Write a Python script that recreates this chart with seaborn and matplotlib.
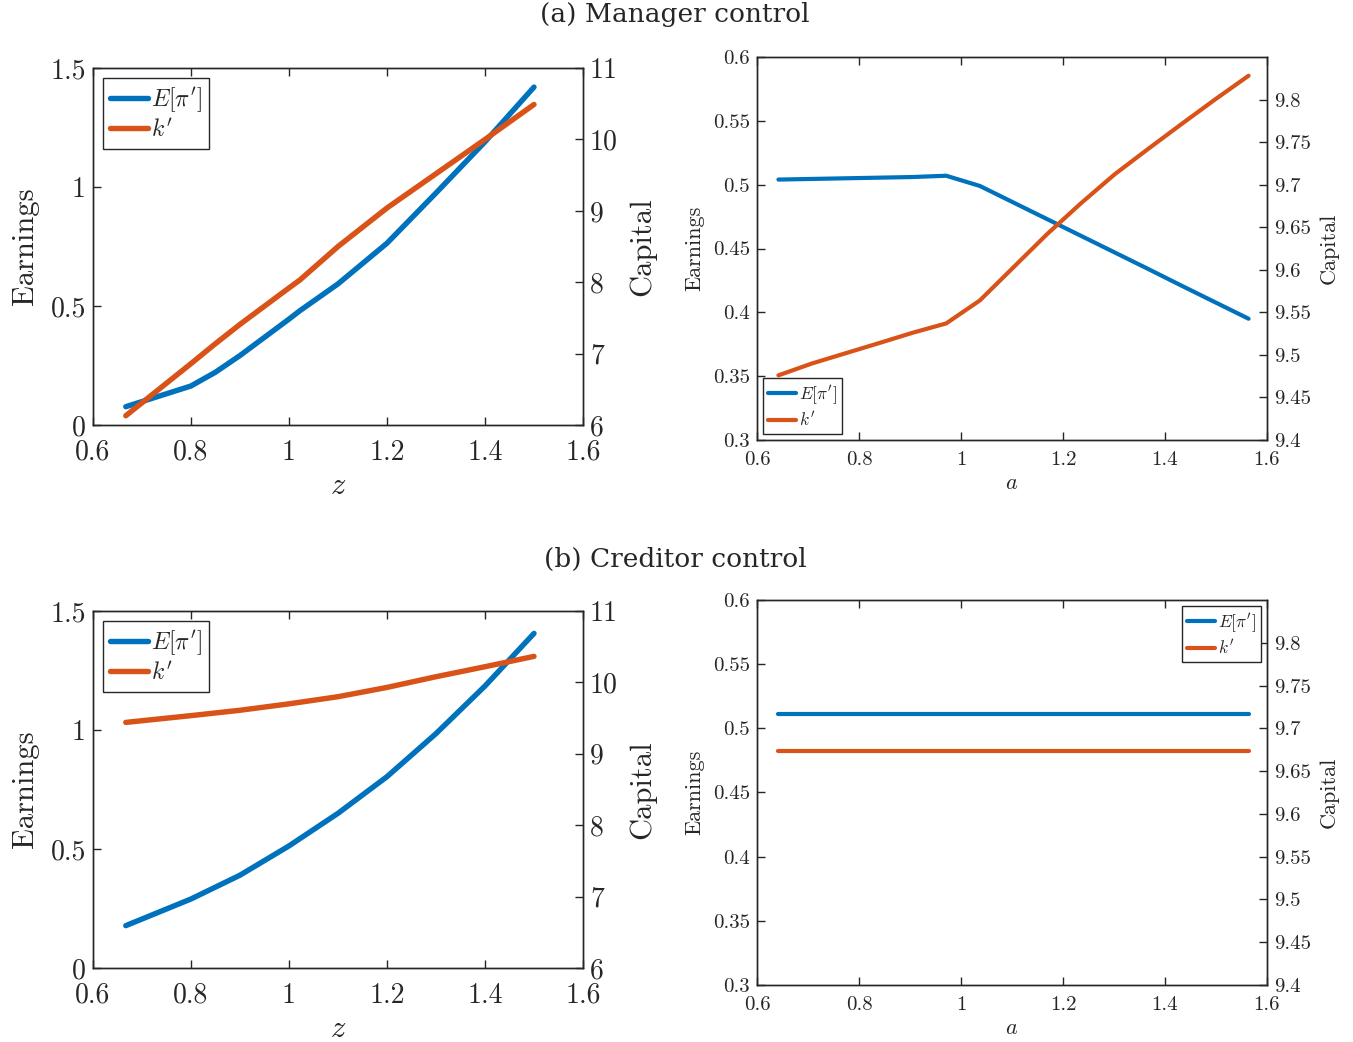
import numpy as np
import matplotlib
matplotlib.use("Agg")
import matplotlib.pyplot as plt
from matplotlib.ticker import FuncFormatter
import seaborn as sns

# (a) manager control, productivity z
z_a = [0.667, 0.8, 0.85, 0.9, 1.0, 1.022, 1.1, 1.2, 1.3, 1.4, 1.5]
earn_z_a = [0.077, 0.164, 0.222, 0.292, 0.445, 0.480, 0.593, 0.764, 0.975, 1.19, 1.42]
cap_z_a = [6.13, 6.86, 7.14, 7.41, 7.92, 8.03, 8.50, 9.04, 9.52, 10.0, 10.49]

# (a) manager control, a
a_a = [0.642, 0.708, 0.774, 0.840, 0.905, 0.971, 1.037, 1.103, 1.169, 1.235,
       1.301, 1.367, 1.432, 1.498, 1.564]
earn_a_a = [0.504, 0.5045, 0.505, 0.5055, 0.506, 0.507, 0.499, 0.486, 0.473,
            0.460, 0.447, 0.434, 0.421, 0.408, 0.395]
cap_a_a = [9.476, 9.490, 9.502, 9.514, 9.526, 9.537, 9.564, 9.603, 9.642, 9.678,
           9.712, 9.742, 9.771, 9.800, 9.828]

# (b) creditor control, z
z_b = [0.667, 0.8, 0.9, 1.0, 1.1, 1.2, 1.3, 1.4, 1.5]
earn_z_b = [0.178, 0.29, 0.39, 0.513, 0.65, 0.804, 0.985, 1.185, 1.406]
cap_z_b = [9.44, 9.535, 9.61, 9.70, 9.80, 9.93, 10.08, 10.22, 10.365]

# (b) creditor control, a (flat)
a_b = [0.642, 1.564]
earn_a_b = [0.511, 0.511]
cap_a_b = [9.674, 9.674]

blue = "#0072BD"
orange = "#D95319"

sns.set_style("ticks")
plt.rcParams["font.family"] = "serif"
plt.rcParams["font.serif"] = ["cmr10", "DejaVu Serif"]
plt.rcParams["mathtext.fontset"] = "cm"
plt.rcParams["axes.formatter.use_mathtext"] = True
plt.rcParams["axes.linewidth"] = 1.0
plt.rcParams["axes.edgecolor"] = "#262626"

fmt = FuncFormatter(lambda v, p: "%g" % round(v, 4))


def panel(rect, x, earn, cap, xlabel, big, ylim_l, yticks_l, ylim_r, yticks_r, loc):
    ax = fig.add_axes(rect)
    ax2 = ax.twinx()
    lw = 3.9 if big else 3.0
    fs = 20 if big else 15
    lfs = 22 if big else 16
    sns.lineplot(x=x, y=earn, ax=ax, color=blue, lw=lw, label=r"$E[\pi']$", legend=False)
    sns.lineplot(x=x, y=cap, ax=ax2, color=orange, lw=lw, label=r"$k'$", legend=False)
    ax.set_xlim(0.6, 1.6)
    ax.set_xticks([0.6, 0.8, 1.0, 1.2, 1.4, 1.6])
    ax.set_ylim(*ylim_l)
    ax.set_yticks(yticks_l)
    ax2.set_ylim(*ylim_r)
    ax2.set_yticks(yticks_r)
    for a_ in (ax, ax2):
        a_.xaxis.set_major_formatter(fmt)
        a_.yaxis.set_major_formatter(fmt)
    xpad = 10.5 if big else 8
    ax.tick_params(axis="x", direction="in", top=True, labelsize=fs, length=6, width=1, pad=xpad)
    ax.tick_params(axis="y", direction="in", right=False, labelsize=fs, length=6, width=1, pad=5)
    ax2.tick_params(direction="in", labelsize=fs, length=6, width=1, pad=5)
    ax.set_xlabel(xlabel, fontsize=lfs, labelpad=5 if big else 3)
    ax.set_ylabel("Earnings", fontsize=lfs, labelpad=8 if big else 6)
    ax2.set_ylabel("Capital", fontsize=lfs, labelpad=8 if big else 6)
    for s in ax2.spines.values():
        s.set_visible(True)
    h1, l1 = ax.get_legend_handles_labels()
    h2, l2 = ax2.get_legend_handles_labels()
    leg = ax2.legend(h1 + h2, l1 + l2, loc=loc, fontsize=17 if big else 12.5,
                     frameon=True, fancybox=False, edgecolor="#262626",
                     handlelength=1.6, handletextpad=0.15,
                     borderpad=0.3, labelspacing=0.2,
                     borderaxespad=0.42 if big else 0.35)
    leg.get_frame().set_linewidth(1.0)
    leg.get_frame().set_alpha(1)
    return ax, ax2


fig = plt.figure(figsize=(13.53, 10.42), dpi=100)

panel([0.0687, 0.5921, 0.3622, 0.3426], z_a, earn_z_a, cap_z_a, "$z$", True,
      (0, 1.5), [0, 0.5, 1, 1.5], (6, 11), [6, 7, 8, 9, 10, 11], "upper left")
panel([0.5595, 0.5777, 0.3769, 0.3676], a_a, earn_a_a, cap_a_a, "$a$", False,
      (0.3, 0.6), [0.3, 0.35, 0.4, 0.45, 0.5, 0.55, 0.6], (9.4, 9.85),
      [9.4, 9.45, 9.5, 9.55, 9.6, 9.65, 9.7, 9.75, 9.8], "lower left")
panel([0.0687, 0.0710, 0.3622, 0.3426], z_b, earn_z_b, cap_z_b, "$z$", True,
      (0, 1.5), [0, 0.5, 1, 1.5], (6, 11), [6, 7, 8, 9, 10, 11], "upper left")
panel([0.5595, 0.0547, 0.3769, 0.3695], a_b, earn_a_b, cap_a_b, "$a$", False,
      (0.3, 0.6), [0.3, 0.35, 0.4, 0.45, 0.5, 0.55, 0.6], (9.4, 9.85),
      [9.4, 9.45, 9.5, 9.55, 9.6, 9.65, 9.7, 9.75, 9.8], "upper right")

fig.text(0.499, 0.986, "(a) Manager control", ha="center", va="center",
         fontsize=19, family="DejaVu Serif")
fig.text(0.499, 0.463, "(b) Creditor control", ha="center", va="center",
         fontsize=19, family="DejaVu Serif")

fig.savefig("out.png", dpi=100)
